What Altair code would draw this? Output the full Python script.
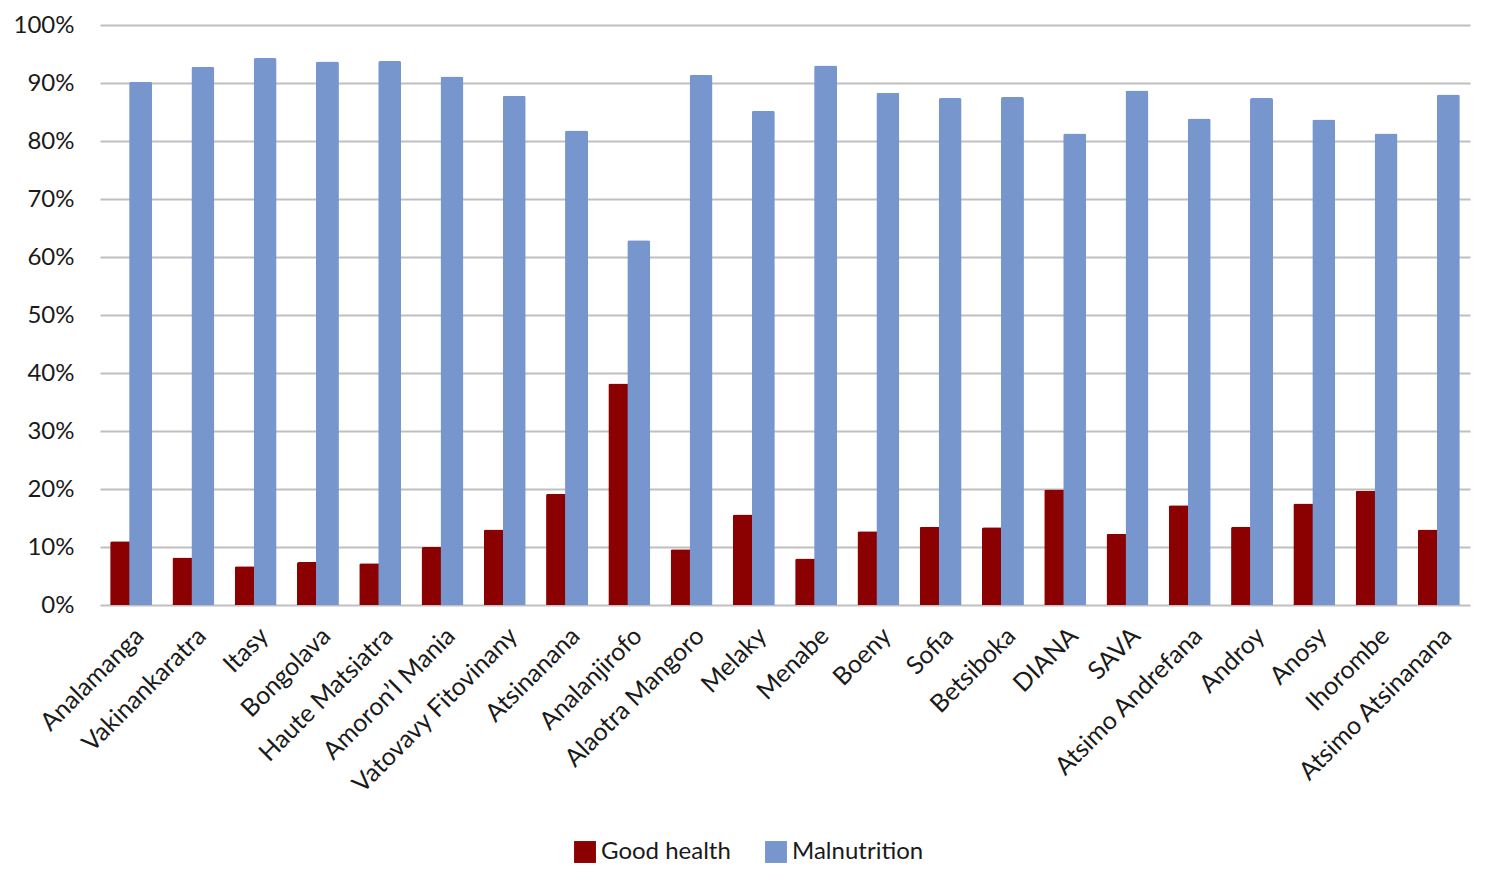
import altair as alt
import pandas as pd

regions = ["Analamanga", "Vakinankaratra", "Itasy", "Bongolava", "Haute Matsiatra",
           "Amoron\u2019I Mania", "Vatovavy Fitovinany", "Atsinanana", "Analanjirofo",
           "Alaotra Mangoro", "Melaky", "Menabe", "Boeny", "Sofia", "Betsiboka", "DIANA",
           "SAVA", "Atsimo Andrefana", "Androy", "Anosy", "Ihorombe", "Atsimo Atsinanana"]
good_health = [0.110, 0.082, 0.067, 0.074, 0.072, 0.100, 0.130, 0.192, 0.382, 0.096,
               0.156, 0.080, 0.127, 0.135, 0.134, 0.199, 0.123, 0.172, 0.135, 0.175,
               0.197, 0.130]
malnutrition = [0.902, 0.928, 0.943, 0.937, 0.938, 0.911, 0.878, 0.818, 0.629, 0.914,
                0.852, 0.930, 0.883, 0.874, 0.876, 0.813, 0.887, 0.839, 0.874, 0.837,
                0.813, 0.880]
series = ["Good health", "Malnutrition"]
colors = ["#8B0000", "#7896CE"]

rows = []
for r, g, m in zip(regions, good_health, malnutrition):
    rows.append({"region": r, "series": series[0], "value": g})
    rows.append({"region": r, "series": series[1], "value": m})
df = pd.DataFrame(rows)

FONT = "Lato"

chart = alt.Chart(df).mark_bar(width=23, cornerRadiusTopLeft=2, cornerRadiusTopRight=2).encode(
    x=alt.X("region:N", sort=regions, title=None,
            scale=alt.Scale(paddingInner=0.32, paddingOuter=0.16),
            axis=alt.Axis(labelAngle=-45, labelAlign="right", labelBaseline="top",
                          labelFontSize=25, labelFont=FONT, labelColor="#1a1a1a",
                          labelPadding=18, ticks=False, domain=False, labelLimit=400)),
    xOffset=alt.XOffset("series:N", sort=series,
                        scale=alt.Scale(paddingInner=0, paddingOuter=0.116)),
    y=alt.Y("value:Q", title=None,
            scale=alt.Scale(domain=[0, 1], nice=False),
            axis=alt.Axis(format=".0%", values=[i / 10 for i in range(11)],
                          labelFontSize=24, labelFont=FONT, labelColor="#1a1a1a",
                          labelPadding=26, ticks=False, domain=False,
                          grid=True, gridColor="#BFBFBF", gridWidth=2)),
    color=alt.Color("series:N", sort=series, title=None,
                    scale=alt.Scale(domain=series, range=colors),
                    legend=alt.Legend(orient="none", legendX=473, legendY=815,
                                      direction="horizontal", symbolType="square",
                                      symbolSize=480, symbolStrokeWidth=0,
                                      labelFontSize=24, labelFont=FONT,
                                      labelColor="#1a1a1a", columnPadding=33,
                                      labelOffset=4, labelLimit=300)),
).properties(
    width=1370, height=580,
    padding={"left": 5, "top": 5, "right": 10, "bottom": 2},
).configure(background="white").configure_view(stroke=None)

chart.save("out.html", embed_options={"renderer": "svg", "actions": False})
